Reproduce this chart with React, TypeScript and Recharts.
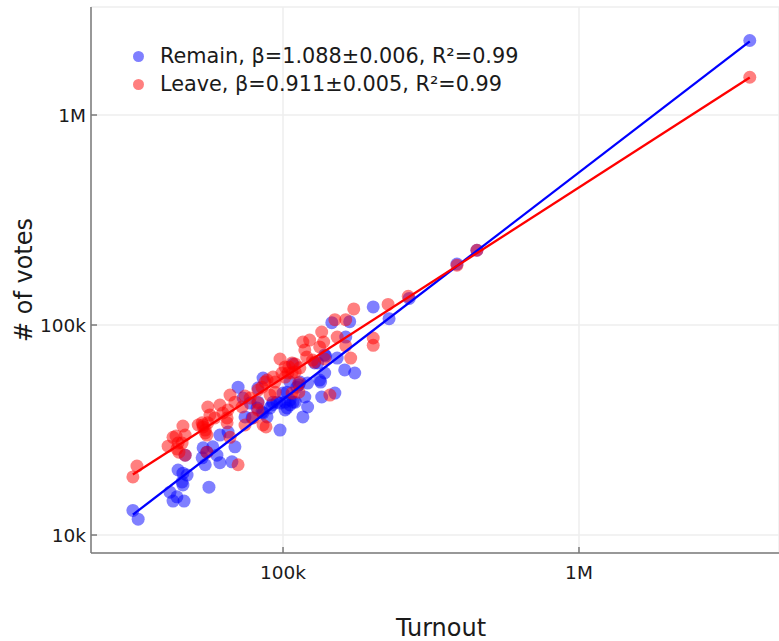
import { ScatterChart, Scatter, XAxis, YAxis, CartesianGrid, Legend } from 'recharts'

// [turnout, votes] per voting area
const remainPoints = [
  [31100, 13100], [32400, 11900], [41500, 16000], [42500, 14500], [43800, 15200], [46300, 14500],
  [44200, 20400], [45900, 19700], [47400, 19300], [45600, 17900], [45900, 17300], [46700, 24000],
  [53700, 26000], [55300, 24800], [56200, 16900], [53300, 23300], [54600, 21600], [57900, 26300],
  [59800, 24000], [61200, 22100], [61200, 29900], [65200, 30900], [68800, 26300], [67200, 22300],
  [70500, 50600], [73300, 44900], [74400, 36500], [77400, 42500], [78600, 36100], [81700, 40300],
  [82300, 42900], [85600, 55900], [85600, 38100], [88300, 36500], [84900, 38500], [91800, 41600],
  [90400, 40300], [95400, 42900], [97700, 31600], [100000, 47400], [101600, 42900], [103200, 40300],
  [105600, 43900], [108100, 42900], [101600, 39400], [105600, 41600], [108100, 65200], [111400, 50600],
  [114000, 53500], [116700, 36500], [118500, 45400], [121100, 52900], [121100, 40700], [127900, 66000],
  [133000, 54700], [135100, 45400], [138300, 59100], [139400, 71100], [146200, 102600], [152400, 69600],
  [161600, 61100], [162900, 87600], [168000, 103700], [174700, 59100], [201700, 121900], [228200, 107200],
  [266900, 133900], [138300, 72000], [134000, 53500], [149700, 47400], [131000, 66000], [105600, 53500],
  [113100, 51800], [103200, 47900], [82300, 50100], [92500, 42900], [97700, 42500], [110000, 42900],
  [387000, 195000], [452000, 227000], [3776000, 2264000],
]

const leavePoints = [
  [31100, 18900], [32100, 21300], [40900, 26500], [42500, 29200], [43500, 29600], [44200, 27400],
  [45900, 33000], [46700, 29900], [45600, 27400], [43800, 25700], [44500, 24800], [46700, 24000],
  [53700, 33400], [54600, 30600], [55700, 34200], [53700, 32700], [55300, 24800], [55700, 40700],
  [56600, 37300], [58800, 36100], [61200, 41600], [62600, 38100], [65200, 39400], [64700, 36100],
  [53300, 34200], [51700, 33400], [54600, 31600], [55300, 29900], [66200, 46400], [68800, 42900],
  [64700, 34200], [66200, 29200], [70500, 21600], [72700, 40700], [74400, 45900], [74400, 33400],
  [77400, 44900], [79200, 36100], [82300, 39400], [82300, 49000], [82300, 42500], [84900, 50600],
  [85600, 33400], [88300, 54700], [86900, 53500], [90400, 46400], [92500, 56500], [94000, 53500],
  [94000, 47900], [97700, 68900], [99200, 59100], [101600, 63100], [101600, 56500], [103900, 59100],
  [104700, 63100], [107300, 66000], [110000, 65200], [110000, 59800], [107300, 59100], [114000, 62500],
  [107300, 47400], [113100, 47900], [113100, 52900], [116700, 83000], [123000, 84800], [118500, 76100],
  [120200, 70400], [125900, 68100], [127900, 66600], [133000, 78600], [135100, 92600], [137200, 83000],
  [138300, 68900], [149700, 106000], [152400, 87600], [162900, 106000], [162900, 79500], [169300, 69600],
  [173400, 119300], [201700, 86700], [201700, 80000], [226500, 125300], [264900, 136900], [144000, 46400],
  [87600, 32700], [387000, 192500], [452000, 227000], [3776000, 1513000],
]

// fitted power-law lines, endpoints at smallest and largest turnout
const remainFit = [[31100, 12500], [3776000, 2240000]]
const leaveFit = [[31100, 19400], [3776000, 1510000]]

const xTicks = [100000, 1000000]
const yTicks = [10000, 100000, 1000000]
const xDomain = [22450, 4740000]
const yDomain = [8210, 3268000]

const SERIES = [
  { name: 'Remain', label: 'Remain, β=1.088±0.006, R²=0.99', color: '#0000ff' },
  { name: 'Leave', label: 'Leave, β=0.911±0.005, R²=0.99', color: '#ff0000' },
]

const FONT = '"DejaVu Sans", Verdana, sans-serif'
const AXIS_COLOR = '#7a7a7a'
const TEXT_COLOR = '#1a1a1a'

const fmt = (v: number) => (v >= 1e6 ? `${v / 1e6}M` : v >= 1e3 ? `${v / 1e3}k` : `${v}`)
const toRows = (pts: number[][]) => pts.map(([turnout, votes]) => ({ turnout, votes }))

const dot = (color: string) => (props: any) => (
  <circle cx={props.cx} cy={props.cy} r={6.5} fill={color} fillOpacity={0.5} />
)
const noShape = () => <g />

const XTick = ({ x, y, payload }: any) => (
  <g>
    <line x1={x} y1={y} x2={x} y2={y - 6} stroke={AXIS_COLOR} strokeWidth={1.5} />
    <text x={x} y={y + 26} textAnchor="middle" fontSize={18.5} fontFamily={FONT} fill={TEXT_COLOR}>
      {fmt(payload.value)}
    </text>
  </g>
)

const TopTick = ({ x, y }: any) => (
  <line x1={x} y1={y} x2={x} y2={y + 6} stroke={AXIS_COLOR} strokeWidth={1.5} />
)

const YTick = ({ x, y, payload }: any) => (
  <g>
    <line x1={x} y1={y} x2={x + 6} y2={y} stroke={AXIS_COLOR} strokeWidth={1.5} />
    <text x={x - 5} y={y + 6.5} textAnchor="end" fontSize={18.5} fontFamily={FONT} fill={TEXT_COLOR}>
      {fmt(payload.value)}
    </text>
  </g>
)

const LegendBox = () => (
  <div style={{ fontFamily: FONT, fontSize: 20.8, color: TEXT_COLOR, lineHeight: '28px' }}>
    {SERIES.map((s) => (
      <div key={s.name} style={{ display: 'flex', alignItems: 'center', whiteSpace: 'nowrap' }}>
        <span
          style={{
            display: 'inline-block',
            width: 11,
            height: 11,
            borderRadius: 6,
            background: s.color,
            opacity: 0.5,
            marginRight: 16,
          }}
        />
        {s.label}
      </div>
    ))}
  </div>
)

export default function App() {
  return (
    <div style={{ position: 'absolute', left: 0, top: 0, background: '#fff' }}>
      <ScatterChart width={779} height={641} margin={{ top: 7, right: 0, bottom: 0, left: 0 }}>
        <CartesianGrid stroke="#eeeeee" strokeWidth={1.5} />
        <XAxis
          dataKey="turnout"
          type="number"
          scale="log"
          domain={xDomain}
          allowDataOverflow
          ticks={xTicks}
          height={88}
          tickSize={0}
          tickMargin={0}
          tick={XTick}
          axisLine={{ stroke: AXIS_COLOR, strokeWidth: 1.5 }}
          tickLine={false}
          label={(p: any) => (
            <text
              x={p.viewBox.x + p.viewBox.width / 2 + 6}
              y={p.viewBox.y + 83}
              textAnchor="middle"
              fontSize={24}
              fontFamily={FONT}
              fill={TEXT_COLOR}
            >
              Turnout
            </text>
          )}
        />
        <XAxis
          xAxisId="top"
          orientation="top"
          dataKey="turnout"
          type="number"
          scale="log"
          domain={xDomain}
          allowDataOverflow
          ticks={xTicks}
          height={0}
          tickSize={0}
          tickMargin={0}
          tick={TopTick}
          axisLine={{ stroke: AXIS_COLOR, strokeWidth: 1.5 }}
          tickLine={false}
        />
        <YAxis
          dataKey="votes"
          type="number"
          scale="log"
          domain={yDomain}
          allowDataOverflow
          ticks={yTicks}
          width={91}
          tickSize={0}
          tickMargin={0}
          tick={YTick}
          axisLine={{ stroke: AXIS_COLOR, strokeWidth: 1.5 }}
          tickLine={false}
          label={(p: any) => {
            const cx = p.viewBox.x + 24
            const cy = p.viewBox.y + p.viewBox.height / 2
            return (
              <text
                x={cx}
                y={cy}
                transform={`rotate(-90 ${cx} ${cy})`}
                textAnchor="middle"
                dominantBaseline="central"
                fontSize={24}
                fontFamily={FONT}
                fill={TEXT_COLOR}
              >
                # of votes
              </text>
            )
          }}
        />
        <Legend
          layout="vertical"
          align="center"
          verticalAlign="middle"
          wrapperStyle={{ left: 133, top: 42, width: 'auto' }}
          content={LegendBox}
        />
        <Scatter name="Remain" data={toRows(remainPoints)} shape={dot(SERIES[0].color)} isAnimationActive={false} />
        <Scatter name="Leave" data={toRows(leavePoints)} shape={dot(SERIES[1].color)} isAnimationActive={false} />
        <Scatter
          name="Remain fit"
          data={toRows(remainFit)}
          shape={noShape}
          line={{ stroke: SERIES[0].color, strokeWidth: 2.3 }}
          legendType="none"
          isAnimationActive={false}
        />
        <Scatter
          name="Leave fit"
          data={toRows(leaveFit)}
          shape={noShape}
          line={{ stroke: SERIES[1].color, strokeWidth: 2.3 }}
          legendType="none"
          isAnimationActive={false}
        />
      </ScatterChart>
    </div>
  )
}
